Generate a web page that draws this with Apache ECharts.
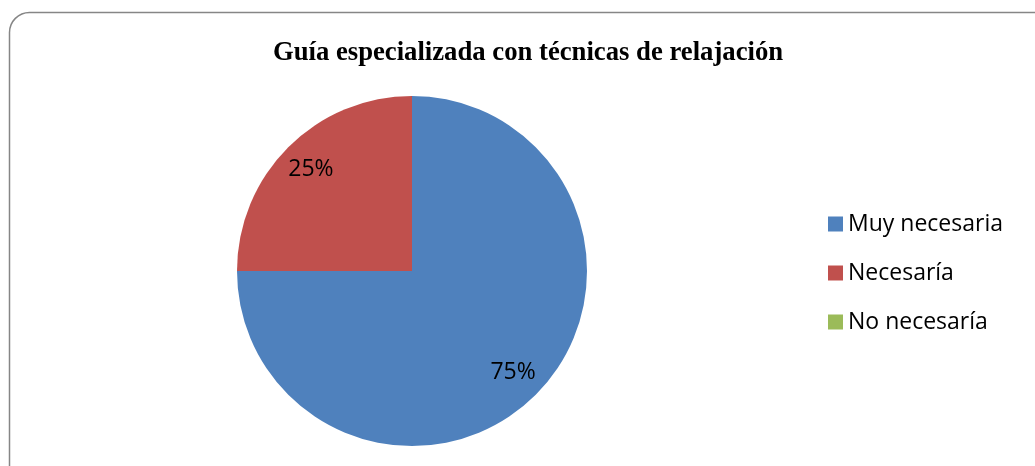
<!DOCTYPE html>
<html>
<head>
<meta charset="utf-8">
<script src="https://cdn.jsdelivr.net/npm/echarts@6/dist/echarts.min.js"></script>
<style>
  html, body { margin: 0; padding: 0; background: #fff; }
  #chart { width: 1035px; height: 466px; }
</style>
</head>
<body>
<div id="chart"></div>
<script>
const categories = ['Muy necesaria', 'Necesaría', 'No necesaría'];
const values = [75, 25, 0];
const colors = ['#4F81BD', '#C0504D', '#9BBB59'];

const chart = echarts.init(document.getElementById('chart'));

const pieData = categories.map((name, i) => ({ name, value: values[i], itemStyle: { color: colors[i] } }));

const option = {
  animation: false,
  backgroundColor: '#fff',
  title: {
    text: 'Guía especializada con técnicas de relajación',
    left: 523,
    textAlign: 'center',
    top: 35,
    textStyle: { fontFamily: 'Liberation Serif', fontWeight: 'bold', fontSize: 26.7, color: '#000' }
  },
  legend: {
    orient: 'vertical',
    left: 823,
    top: 207,
    itemWidth: 15,
    itemHeight: 15,
    itemGap: 25,
    icon: 'rect',
    data: categories,
    textStyle: { fontFamily: 'Open Sans', fontSize: 23, lineHeight: 24, color: '#000' }
  },
  graphic: [{
    type: 'rect',
    shape: { x: 9.5, y: 12.5, width: 1100, height: 500, r: 20 },
    style: { fill: 'none', stroke: '#868686', lineWidth: 1.5 },
    silent: true
  }],
  series: [
    {
      type: 'pie',
      center: [412, 271],
      radius: 175,
      startAngle: 90,
      clockwise: true,
      data: pieData,
      label: { show: false },
      labelLine: { show: false },
      emphasis: { disabled: true }
    },
    {
      // overlay used only to place labels at ~80% of radius
      type: 'pie',
      center: [412, 271],
      radius: [105, 175],
      startAngle: 90,
      clockwise: true,
      silent: true,
      legendHoverLink: false,
      data: categories.map((name, i) => ({
        name, value: values[i],
        itemStyle: { color: 'transparent' },
        label: { show: values[i] > 0 }
      })),
      label: {
        position: 'inside',
        formatter: p => p.value + '%',
        fontFamily: 'Open Sans',
        fontSize: 23,
        color: '#000'
      },
      labelLine: { show: false },
      emphasis: { disabled: true }
    }
  ]
};

chart.setOption(option);
</script>
</body>
</html>
